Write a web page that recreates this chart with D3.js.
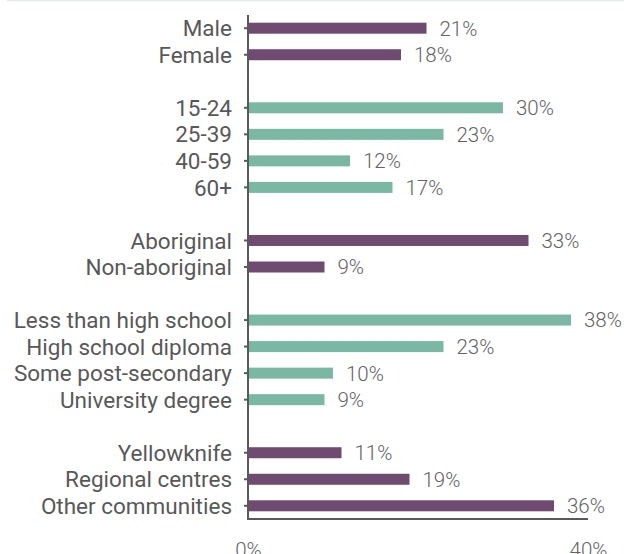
<!DOCTYPE html>
<html>
<head>
<meta charset="utf-8">
<script src="https://cdn.jsdelivr.net/npm/d3@7"></script>
<style>
  html, body { margin: 0; padding: 0; background: #ffffff; }
  svg { display: block; }
</style>
</head>
<body>
<svg id="chart" width="624" height="554"></svg>
<script>
// Share of respondents by demographic group (%)
const categories = [
  "Male", "Female",
  "15-24", "25-39", "40-59", "60+",
  "Aboriginal", "Non-aboriginal",
  "Less than high school", "High school diploma", "Some post-secondary", "University degree",
  "Yellowknife", "Regional centres", "Other communities"
];
const values = [21, 18, 30, 23, 12, 17, 33, 9, 38, 23, 10, 9, 11, 19, 36];
// Group index of each category; groups alternate in colour and are separated by a gap
const groups = [0, 0, 1, 1, 1, 1, 2, 2, 3, 3, 3, 3, 4, 4, 4];
const xTickValues = [0, 40];
const xTickLabels = ["0%", "40%"];
const palette = ["#704b71", "#7ab8a4"];

const data = categories.map((c, i) => ({ name: c, value: values[i], group: groups[i] }));

// Build the band domain with an empty slot between groups
const domain = [];
data.forEach((d, i) => {
  if (i > 0 && d.group !== data[i - 1].group) domain.push("__gap" + i);
  domain.push(d.name);
});

const svg = d3.select("#chart");
const plotLeft = 248, plotRight = 588, plotTop = 15, plotBottom = 519;

const x = d3.scaleLinear().domain([0, 40]).range([plotLeft, plotRight]);
const y = d3.scaleBand().domain(domain).range([plotTop, plotBottom]).paddingInner(0.585).paddingOuter(0.29);

const axisColor = "#595959";
const catFont = "Roboto, 'Open Sans', sans-serif";

// thin rule along the top edge
svg.append("line")
  .attr("x1", 7).attr("x2", 624).attr("y1", 0.5).attr("y2", 0.5)
  .attr("stroke", "#e4ebe8").attr("stroke-width", 1.5);

// bars
svg.append("g").selectAll("rect").data(data).join("rect")
  .attr("x", x(0) + 1)
  .attr("y", d => y(d.name))
  .attr("width", d => x(d.value) - x(0) - 1)
  .attr("height", y.bandwidth())
  .attr("fill", d => palette[d.group % 2]);

// value labels
svg.append("g").selectAll("text").data(data).join("text")
  .attr("x", d => x(d.value) + 13)
  .attr("y", d => y(d.name) + y.bandwidth() / 2)
  .attr("dy", "0.36em")
  .attr("font-family", catFont)
  .attr("font-weight", 300)
  .attr("font-size", 20.5)
  .attr("fill", "#646464")
  .text(d => d.value + "%");

// left axis with category ticks
const yAxis = d3.axisLeft(y)
  .tickValues(categories)
  .tickSize(4)
  .tickPadding(12);
const gy = svg.append("g").attr("transform", `translate(${plotLeft},0)`).call(yAxis);
gy.select(".domain").remove();
gy.selectAll(".tick line").attr("stroke", axisColor).attr("stroke-width", 2);
gy.selectAll(".tick text")
  .attr("dy", "0.36em")
  .attr("font-family", catFont)
  .attr("font-weight", 400)
  .attr("font-size", 22.5)
  .attr("fill", "#585858");
svg.append("line")
  .attr("x1", plotLeft).attr("x2", plotLeft).attr("y1", plotTop).attr("y2", plotBottom + 1)
  .attr("stroke", axisColor).attr("stroke-width", 2);

// bottom axis
const xAxis = d3.axisBottom(x)
  .tickValues(xTickValues)
  .tickFormat((d, i) => xTickLabels[i])
  .tickSize(0)
  .tickPadding(23);
const gx = svg.append("g").attr("transform", `translate(0,${plotBottom})`).call(xAxis);
gx.select(".domain").remove();
gx.selectAll(".tick text")
  .attr("font-family", catFont)
  .attr("font-weight", 300)
  .attr("font-size", 20.5)
  .attr("fill", "#646464");
svg.append("line")
  .attr("x1", plotLeft - 1).attr("x2", plotRight).attr("y1", plotBottom).attr("y2", plotBottom)
  .attr("stroke", axisColor).attr("stroke-width", 2);
</script>
</body>
</html>
